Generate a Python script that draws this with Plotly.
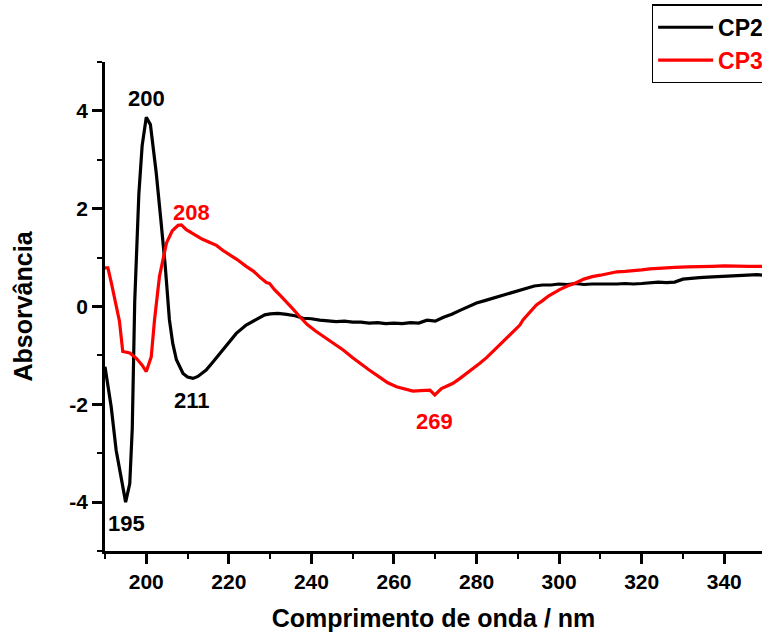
import plotly.graph_objects as go

# CD spectra (wavelength in nm, absorbance)
cp2_wavelength = [190, 191.5, 192.7, 194, 195, 196, 196.6, 197.2, 198.2, 199, 200, 201, 202.4,
                  203.5, 204.6, 205.6, 206.4, 207.3, 208.9, 210, 211.3, 212.5, 214.5, 216,
                  217.8, 219.8, 221.8, 224.2, 226, 227.5, 228.7, 230, 231.9, 234, 236, 238,
                  240, 242, 244, 246, 248, 250, 252, 254, 256, 258, 260, 262, 264, 266, 268,
                  270, 272, 274, 276, 278, 280, 282, 284, 286, 288, 290, 292, 294, 296, 298,
                  300, 302, 304, 306, 308, 310, 312, 314, 316, 318, 320, 322, 324, 326, 328,
                  330, 332, 334, 336, 338, 340, 342, 344, 346, 348, 349.2]
cp2_absorbance = [-1.23, -2.05, -2.94, -3.5, -4.0, -3.62, -2.5, 0.1, 2.3, 3.29, 3.87, 3.72, 2.74,
                  1.8, 0.82, -0.27, -0.75, -1.09, -1.37, -1.44, -1.47, -1.43, -1.30, -1.15,
                  -0.96, -0.75, -0.55, -0.38, -0.30, -0.24, -0.17, -0.15, -0.14, -0.16, -0.19,
                  -0.24, -0.25, -0.28, -0.29, -0.31, -0.30, -0.32, -0.32, -0.34, -0.33, -0.35,
                  -0.34, -0.35, -0.33, -0.34, -0.28, -0.30, -0.22, -0.16, -0.08, 0.0, 0.07,
                  0.12, 0.17, 0.21, 0.26, 0.32, 0.37, 0.42, 0.44, 0.44, 0.46, 0.45, 0.47,
                  0.45, 0.46, 0.46, 0.45, 0.46, 0.47, 0.46, 0.47, 0.48, 0.50, 0.49, 0.50,
                  0.56, 0.58, 0.59, 0.60, 0.61, 0.62, 0.63, 0.64, 0.65, 0.65, 0.64]

cp3_wavelength = [190, 190.7, 191.5, 192.5, 193.5, 194.3, 195, 196, 197.6, 199, 200, 201.2, 202,
                  203.2, 204.9, 206.3, 207.7, 208.5, 209.7, 211, 212.1, 213.5, 215.4, 217,
                  218.5, 220.2, 222, 224.2, 226, 227.5, 229.1, 229.9, 231, 232.5, 233.9,
                  235.5, 237.2, 239, 241, 243, 245.2, 247.7, 250, 252, 254, 256.6, 258.5,
                  260.6, 262.5, 264.6, 266.5, 268.7, 269.9, 271.5, 273, 274.3, 276, 277.6,
                  279, 280.8, 282.5, 284, 286, 287.7, 289, 290.5, 291.3, 293, 294.5, 296,
                  297.5, 299.4, 300, 302, 304, 306, 308, 310, 312, 314, 316, 318, 320, 322,
                  325, 328, 331, 334, 337, 340, 343, 346, 349.2]
cp3_absorbance = [0.79, 0.79, 0.5, 0.1, -0.3, -0.92, -0.93, -0.95, -1.06, -1.2, -1.33, -1.03,
                  -0.27, 0.62, 1.30, 1.55, 1.66, 1.67, 1.57, 1.50, 1.44, 1.38, 1.31, 1.25,
                  1.15, 1.06, 0.96, 0.82, 0.72, 0.60, 0.49, 0.47, 0.35, 0.22, 0.10, -0.05,
                  -0.21, -0.37, -0.50, -0.62, -0.75, -0.89, -1.05, -1.18, -1.30, -1.45,
                  -1.56, -1.64, -1.69, -1.73, -1.72, -1.71, -1.81, -1.68, -1.62, -1.57,
                  -1.47, -1.37, -1.27, -1.16, -1.04, -0.92, -0.76, -0.62, -0.50, -0.38,
                  -0.27, -0.12, 0.03, 0.12, 0.22, 0.31, 0.34, 0.42, 0.48, 0.56, 0.61, 0.64,
                  0.68, 0.71, 0.72, 0.73, 0.75, 0.77, 0.79, 0.80, 0.81, 0.81, 0.82, 0.83,
                  0.82, 0.82, 0.82]

# Peak labels: (text, x, y, colour)
peak_text = ["200", "208", "211", "195", "269"]
peak_x = [200, 210.9, 211.1, 195.2, 269.9]
peak_y = [4.26, 1.93, -1.92, -4.43, -2.35]
peak_color = ["black", "red", "black", "black", "red"]

x_ticks = [200, 220, 240, 260, 280, 300, 320, 340]
y_ticks = [-4, -2, 0, 2, 4]
y_tick_text = ["-4", "-2", "0", "2", "4"]

FONT = "Arial, Liberation Sans, sans-serif"

fig = go.Figure()
fig.add_trace(go.Scatter(x=cp2_wavelength, y=cp2_absorbance, mode="lines", name="CP2",
                         line=dict(color="black", width=3.2)))
fig.add_trace(go.Scatter(x=cp3_wavelength, y=cp3_absorbance, mode="lines",
                         name='<span style="color:red">CP3</span>',
                         line=dict(color="red", width=3.2)))

for t, x, y, c in zip(peak_text, peak_x, peak_y, peak_color):
    fig.add_annotation(x=x, y=y, text=t, showarrow=False,
                       font=dict(family=FONT, size=22, color=c, weight="bold"))

axis_common = dict(
    showgrid=False, zeroline=False, showline=True, linecolor="black", linewidth=2.5,
    ticks="outside", ticklen=10, tickwidth=2.5, tickcolor="black",
    tickfont=dict(family=FONT, size=21, color="black", weight="bold"),
    mirror=False, automargin=False,
)

fig.update_xaxes(
    range=[190, 349.15], tickvals=x_ticks,
    minor=dict(ticks="outside", ticklen=5, tickwidth=2, tickcolor="black", dtick=10, tick0=190),
    title=dict(text="Comprimento de onda / nm", standoff=20,
               font=dict(family=FONT, size=25, color="black", weight="bold")),
    **axis_common,
)
fig.update_yaxes(
    range=[-5, 5], tickvals=y_ticks, ticktext=y_tick_text,
    minor=dict(ticks="outside", ticklen=5, tickwidth=2, tickcolor="black", dtick=1, tick0=-5),
    title=dict(text="Absorvância", standoff=30,
               font=dict(family=FONT, size=25, color="black", weight="bold")),
    **axis_common,
)

fig.update_layout(
    width=762, height=632,
    margin=dict(l=105, r=0, t=62, b=81, autoexpand=False),
    plot_bgcolor="white", paper_bgcolor="white",
    showlegend=True,
    legend=dict(x=0.832, y=1.118, xanchor="left", yanchor="top",
                bordercolor="black", borderwidth=1.5, bgcolor="white",
                itemwidth=55, tracegroupgap=0,
                font=dict(family=FONT, size=23, color="black", weight="bold")),
)

fig.write_html("out.html")
